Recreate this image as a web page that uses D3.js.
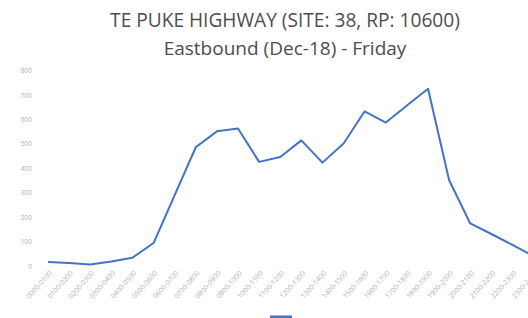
<!DOCTYPE html>
<html>
<head>
<meta charset="utf-8">
<script src="https://cdn.jsdelivr.net/npm/d3@7"></script>
<style>
  body { margin: 0; background: #fff; }
  svg { display: block; }
</style>
</head>
<body>
<script>
// chart values
const hours = ["0000-0100","0100-0200","0200-0300","0300-0400","0400-0500","0500-0600",
  "0600-0700","0700-0800","0800-0900","0900-1000","1000-1100","1100-1200",
  "1200-1300","1300-1400","1400-1500","1500-1600","1600-1700","1700-1800",
  "1800-1900","1900-2000","2000-2100","2100-2200","2200-2300","2300-2400"];
const volumes = [16, 12, 6, 18, 34, 94, 290, 486, 551, 563, 426, 446,
  514, 423, 501, 633, 587, 657, 725, 351, 174, 131, 86, 41];
const yTicks = [0, 100, 200, 300, 400, 500, 600, 700, 800];
const titleLines = ["TE PUKE HIGHWAY (SITE: 38, RP: 10600)", "Eastbound (Dec-18) - Friday"];

const W = 528, H = 318;

const svg = d3.select("body").append("svg")
    .attr("width", W)
    .attr("height", H);

const x = d3.scalePoint()
    .domain(hours)
    .range([48, 533.6]);

const y = d3.scaleLinear()
    .domain([0, 800])
    .range([266, 70.5]);

// title
const titleWidths = [350, 243];
titleLines.forEach(function (t, i) {
    const el = svg.append("text")
        .attr("x", 285)
        .attr("y", i == 0 ? 27 : 55)
        .attr("text-anchor", "middle")
        .attr("font-family", "'Open Sans', sans-serif")
        .attr("font-size", 17)
        .attr("fill", "#4d4d4d")
        .text(t);
    // squeeze to the width seen in the picture
    const w = el.node().getComputedTextLength();
    el.attr("font-size", 17 * titleWidths[i] / w);
});

// y axis, labels only
const yAxis = d3.axisLeft(y)
    .tickValues(yTicks)
    .tickSize(0)
    .tickPadding(0);

svg.append("g")
    .attr("class", "y-axis")
    .attr("transform", "translate(32,0)")
    .call(yAxis)
    .call(g => g.select(".domain").remove())
    .selectAll("text")
    .attr("font-family", "'Open Sans', sans-serif")
    .attr("font-size", 6.5)
    .attr("fill", "#b0b0b0");

// x axis, rotated labels
const xAxis = d3.axisBottom(x)
    .tickSize(0)
    .tickPadding(0);

svg.append("g")
    .attr("class", "x-axis")
    .attr("transform", "translate(0,272)")
    .call(xAxis)
    .call(g => g.select(".domain").remove())
    .selectAll("text")
    .attr("font-family", "'Open Sans', sans-serif")
    .attr("font-size", 7)
    .attr("fill", "#b0b0b0")
    .attr("text-anchor", "end")
    .attr("dy", "0.35em")
    .attr("transform", "translate(2,0) rotate(-48)");

// the line
const line = d3.line()
    .x((d, i) => x(hours[i]))
    .y(d => y(d));

svg.append("path")
    .datum(volumes)
    .attr("fill", "none")
    .attr("stroke", "#4472C4")
    .attr("stroke-width", 2)
    .attr("stroke-linejoin", "round")
    .attr("d", line);

// legend (cut off at the bottom edge)
svg.append("line")
    .attr("x1", 270)
    .attr("x2", 292)
    .attr("y1", 317)
    .attr("y2", 317)
    .attr("stroke", "#4472C4")
    .attr("stroke-width", 3);
</script>
</body>
</html>
